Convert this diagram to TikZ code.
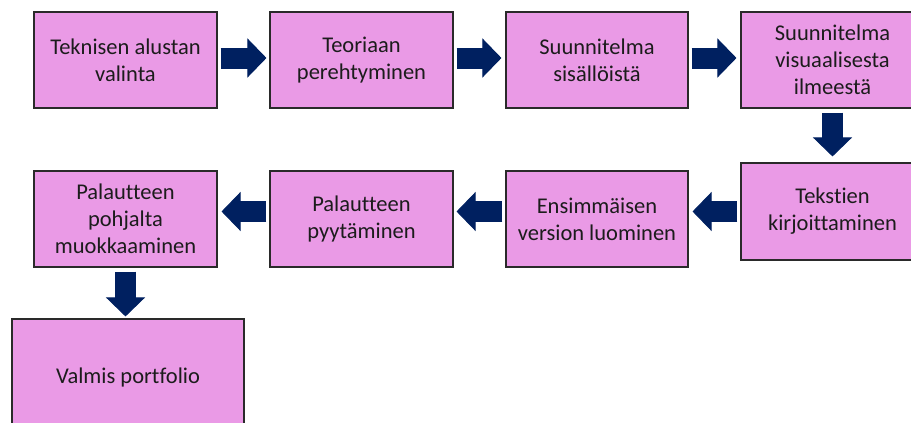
\documentclass[tikz,border=0pt]{standalone}
\usepackage{fontspec}
\setmainfont{Carlito}[Ligatures={NoCommon}]
\usetikzlibrary{arrows.meta,calc}
\definecolor{boxfill}{HTML}{EA9AE6}
\definecolor{boxline}{HTML}{2A2A2A}
\definecolor{navy}{HTML}{002060}
\definecolor{txt}{HTML}{1C1C1C}
\tikzset{
  stepbox/.style={draw=boxline, line width=1.1pt, fill=boxfill, inner sep=0pt,
    minimum width=183pt, minimum height=96pt, align=center, text=txt,
    font=\fontsize{22.5}{27}\selectfont},
  blockarrow/.style={draw=navy, line width=21pt, line cap=butt,
    -{Triangle[width=39pt,length=19pt,fill=navy,line width=1pt]}}
}
\begin{document}
\begin{tikzpicture}[x=1pt,y=-1pt]
\useasboundingbox (0,0) rectangle (911,423);
\node[stepbox] (b1) at (125.5,60) {Teknisen alustan\\valinta};
\node[stepbox] (b2) at (361.5,60) {Teoriaan\\perehtyminen};
\node[stepbox, minimum width=182pt] (b3) at (597,60) {Suunnitelma\\sisällöistä};
\node[stepbox] (b4) at (832.5,60) {Suunnitelma\\visuaalisesta\\ilmeestä};
\node[stepbox, minimum height=97pt] (b5) at (832.5,211.5) {Tekstien\\kirjoittaminen};
\node[stepbox, minimum width=182pt] (b6) at (597,219) {Ensimmäisen\\version luominen};
\node[stepbox] (b7) at (361.5,219) {Palautteen\\pyytäminen};
\node[stepbox] (b8) at (125.5,219) {Palautteen\\pohjalta\\muokkaaminen};
\node[stepbox, minimum width=232pt, minimum height=116pt] (b9) at (128,377) {Valmis portfolio};
% row 1
\draw[blockarrow, shorten <=3pt, shorten >=3pt] ($(b1.east)+(0,-2)$) -- ($(b2.west)+(0,-2)$);
\draw[blockarrow, shorten <=3pt, shorten >=4pt] ($(b2.east)+(0,-2)$) -- ($(b3.west)+(0,-2)$);
\draw[blockarrow, shorten <=3pt, shorten >=4pt] ($(b3.east)+(0,-2)$) -- ($(b4.west)+(0,-2)$);
% down
\draw[blockarrow, shorten <=4pt, shorten >=6pt] (b4.south) -- (b5.north);
% row 2
\draw[blockarrow, shorten <=3pt, shorten >=4pt] (b5.west) -- (b5.west -| b6.east);
\draw[blockarrow, shorten <=3pt, shorten >=3pt] (b6.west |- b5.west) -- (b5.west -| b7.east);
\draw[blockarrow, shorten <=3pt, shorten >=4pt] (b7.west |- b5.west) -- (b5.west -| b8.east);
% down
\draw[blockarrow, shorten <=4pt, shorten >=2pt] (b8.south) -- (b8.south |- b9.north);
\end{tikzpicture}
\end{document}
